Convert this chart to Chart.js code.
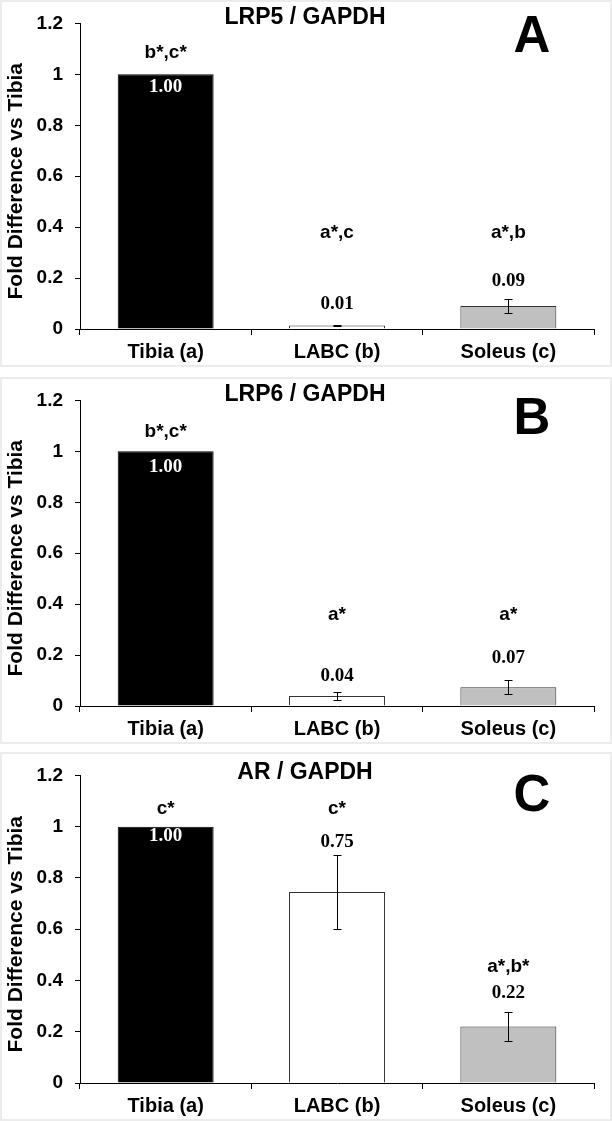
<!DOCTYPE html>
<html>
<head>
<meta charset="utf-8">
<script src="https://cdn.jsdelivr.net/npm/chart.js@4.4.1/dist/chart.umd.min.js"></script>
<style>
  body { margin: 0; background: #fff; }
  .panel { position: absolute; left: 0; width: 612px; }
  .frame { position: absolute; left: 0; width: 608px; border: 2px solid #ececec; pointer-events: none; }
  canvas { position: absolute; left: 0; top: 0; }
</style>
</head>
<body>

<div class="panel" style="top:0px;height:367px"><canvas id="chartA" width="612" height="367"></canvas></div>
<div class="frame" style="top:0px;height:363px"></div>
<div class="panel" style="top:377px;height:367px"><canvas id="chartB" width="612" height="367"></canvas></div>
<div class="frame" style="top:377px;height:363px"></div>
<div class="panel" style="top:752px;height:369px"><canvas id="chartC" width="612" height="369"></canvas></div>
<div class="frame" style="top:752px;height:365px"></div>

<script>
// data
const categories = ['Tibia (a)', 'LABC (b)', 'Soleus (c)'];
const yTickLabels = ['0', '0.2', '0.4', '0.6', '0.8', '1', '1.2'];

const lrp5Values = [1.00, 0.014, 0.09];
const lrp5Errors = [0, 0.003, 0.027];
const lrp5ValueText = ['1.00', '0.01', '0.09'];
const lrp5SigText = ['b*,c*', 'a*,c', 'a*,b'];

const lrp6Values = [1.00, 0.039, 0.074];
const lrp6Errors = [0, 0.016, 0.027];
const lrp6ValueText = ['1.00', '0.04', '0.07'];
const lrp6SigText = ['b*,c*', 'a*', 'a*'];

const arValues = [1.00, 0.745, 0.22];
const arErrors = [0, 0.145, 0.058];
const arValueText = ['1.00', '0.75', '0.22'];
const arSigText = ['c*', 'c*', 'a*,b*'];

const barColors = ['#000000', '#ffffff', '#c0c0c0'];
const labelColors = ['#ffffff', '#000000', '#000000'];

// where the text labels sit, in axis units
const panels = [
  { id: 'chartA', title: 'LRP5 / GAPDH', letter: 'A', titleY: 18, letterY: 38,
    values: lrp5Values, errors: lrp5Errors, valueText: lrp5ValueText, sigText: lrp5SigText,
    valueY: [0.95, 0.097, 0.19], sigY: [1.085, 0.378, 0.378] },
  { id: 'chartB', title: 'LRP6 / GAPDH', letter: 'B', titleY: 18, letterY: 43,
    values: lrp6Values, errors: lrp6Errors, valueText: lrp6ValueText, sigText: lrp6SigText,
    valueY: [0.94, 0.117, 0.187], sigY: [1.075, 0.36, 0.36] },
  { id: 'chartC', title: 'AR / GAPDH', letter: 'C', titleY: 21, letterY: 45,
    values: arValues, errors: arErrors, valueText: arValueText, sigText: arSigText,
    valueY: [0.965, 0.938, 0.349], sigY: [1.07, 1.07, 0.453] }
];

const SANS = "'Liberation Sans', Arial, sans-serif";
const SERIF = "'Liberation Serif', 'Times New Roman', serif";

const annotations = {
  id: 'annotations',
  afterDatasetsDraw(chart, args, opts) {
    const ctx = chart.ctx;
    const y = chart.scales.y;
    const area = chart.chartArea;
    const meta = chart.getDatasetMeta(0);
    ctx.save();
    // error bars
    ctx.strokeStyle = '#000';
    ctx.lineWidth = 1;
    opts.values.forEach((v, i) => {
      const e = opts.errors[i];
      if (!e) return;
      const x = Math.round(meta.data[i].x) + 0.5;
      const yt = Math.round(y.getPixelForValue(v + e)) + 0.5;
      const yb = Math.round(y.getPixelForValue(v - e)) + 0.5;
      ctx.beginPath();
      ctx.moveTo(x, yt); ctx.lineTo(x, yb);
      ctx.moveTo(x - 4, yt); ctx.lineTo(x + 4, yt);
      ctx.moveTo(x - 4, yb); ctx.lineTo(x + 4, yb);
      ctx.stroke();
    });
    ctx.textAlign = 'center';
    ctx.textBaseline = 'middle';
    // values
    ctx.font = 'bold 19px ' + SERIF;
    opts.valueText.forEach((t, i) => {
      ctx.fillStyle = labelColors[i];
      ctx.fillText(t, meta.data[i].x, y.getPixelForValue(opts.valueY[i]));
    });
    // significance letters
    ctx.font = 'bold 19px ' + SANS;
    ctx.fillStyle = '#000';
    opts.sigText.forEach((t, i) => {
      ctx.fillText(t, meta.data[i].x, y.getPixelForValue(opts.sigY[i]));
    });
    // title and panel letter
    ctx.font = 'bold 23px ' + SANS;
    ctx.fillText(opts.title, 305, opts.titleY);
    ctx.font = 'bold 51px ' + SANS;
    ctx.fillText(opts.letter, 532, opts.letterY);
    // y axis title
    ctx.save();
    ctx.translate(16, (area.top + area.bottom) / 2 + 5);
    ctx.rotate(-Math.PI / 2);
    ctx.font = 'bold 21px ' + SANS;
    ctx.fillText('Fold Difference vs Tibia', 0, 0);
    ctx.restore();
    ctx.restore();
  }
};

panels.forEach(p => {
  const canvas = document.getElementById(p.id);
  new Chart(canvas, {
    type: 'bar',
    data: {
      labels: categories,
      datasets: [{
        data: p.values,
        backgroundColor: barColors,
        borderColor: ['#000', '#333', '#333'],
        borderWidth: 1,
        categoryPercentage: 1,
        barPercentage: 0.56
      }]
    },
    options: {
      responsive: false,
      animation: false,
      devicePixelRatio: 1,
      layout: { padding: { top: 21, right: 18, left: 0, bottom: 0 } },
      plugins: {
        legend: { display: false },
        tooltip: { enabled: false },
        annotations: p
      },
      scales: {
        x: {
          afterFit: s => { s.height = 38; },
          grid: { display: true, drawOnChartArea: false, drawTicks: true, tickLength: 6, color: '#000', offset: true },
          border: { display: true, color: '#000', width: 1 },
          ticks: { color: '#000', padding: 5, font: { family: SANS, size: 20, weight: 'bold' } }
        },
        y: {
          min: 0,
          max: 1.2,
          afterFit: s => { s.width = 80; },
          grid: { display: true, drawOnChartArea: false, drawTicks: true, tickLength: 5, color: '#000' },
          border: { display: true, color: '#000', width: 1 },
          ticks: {
            stepSize: 0.2,
            color: '#000',
            padding: 12,
            font: { family: SANS, size: 19, weight: 'bold' },
            callback: (v, i) => yTickLabels[i]
          }
        }
      }
    },
    plugins: [annotations]
  });
});
</script>
</body>
</html>
